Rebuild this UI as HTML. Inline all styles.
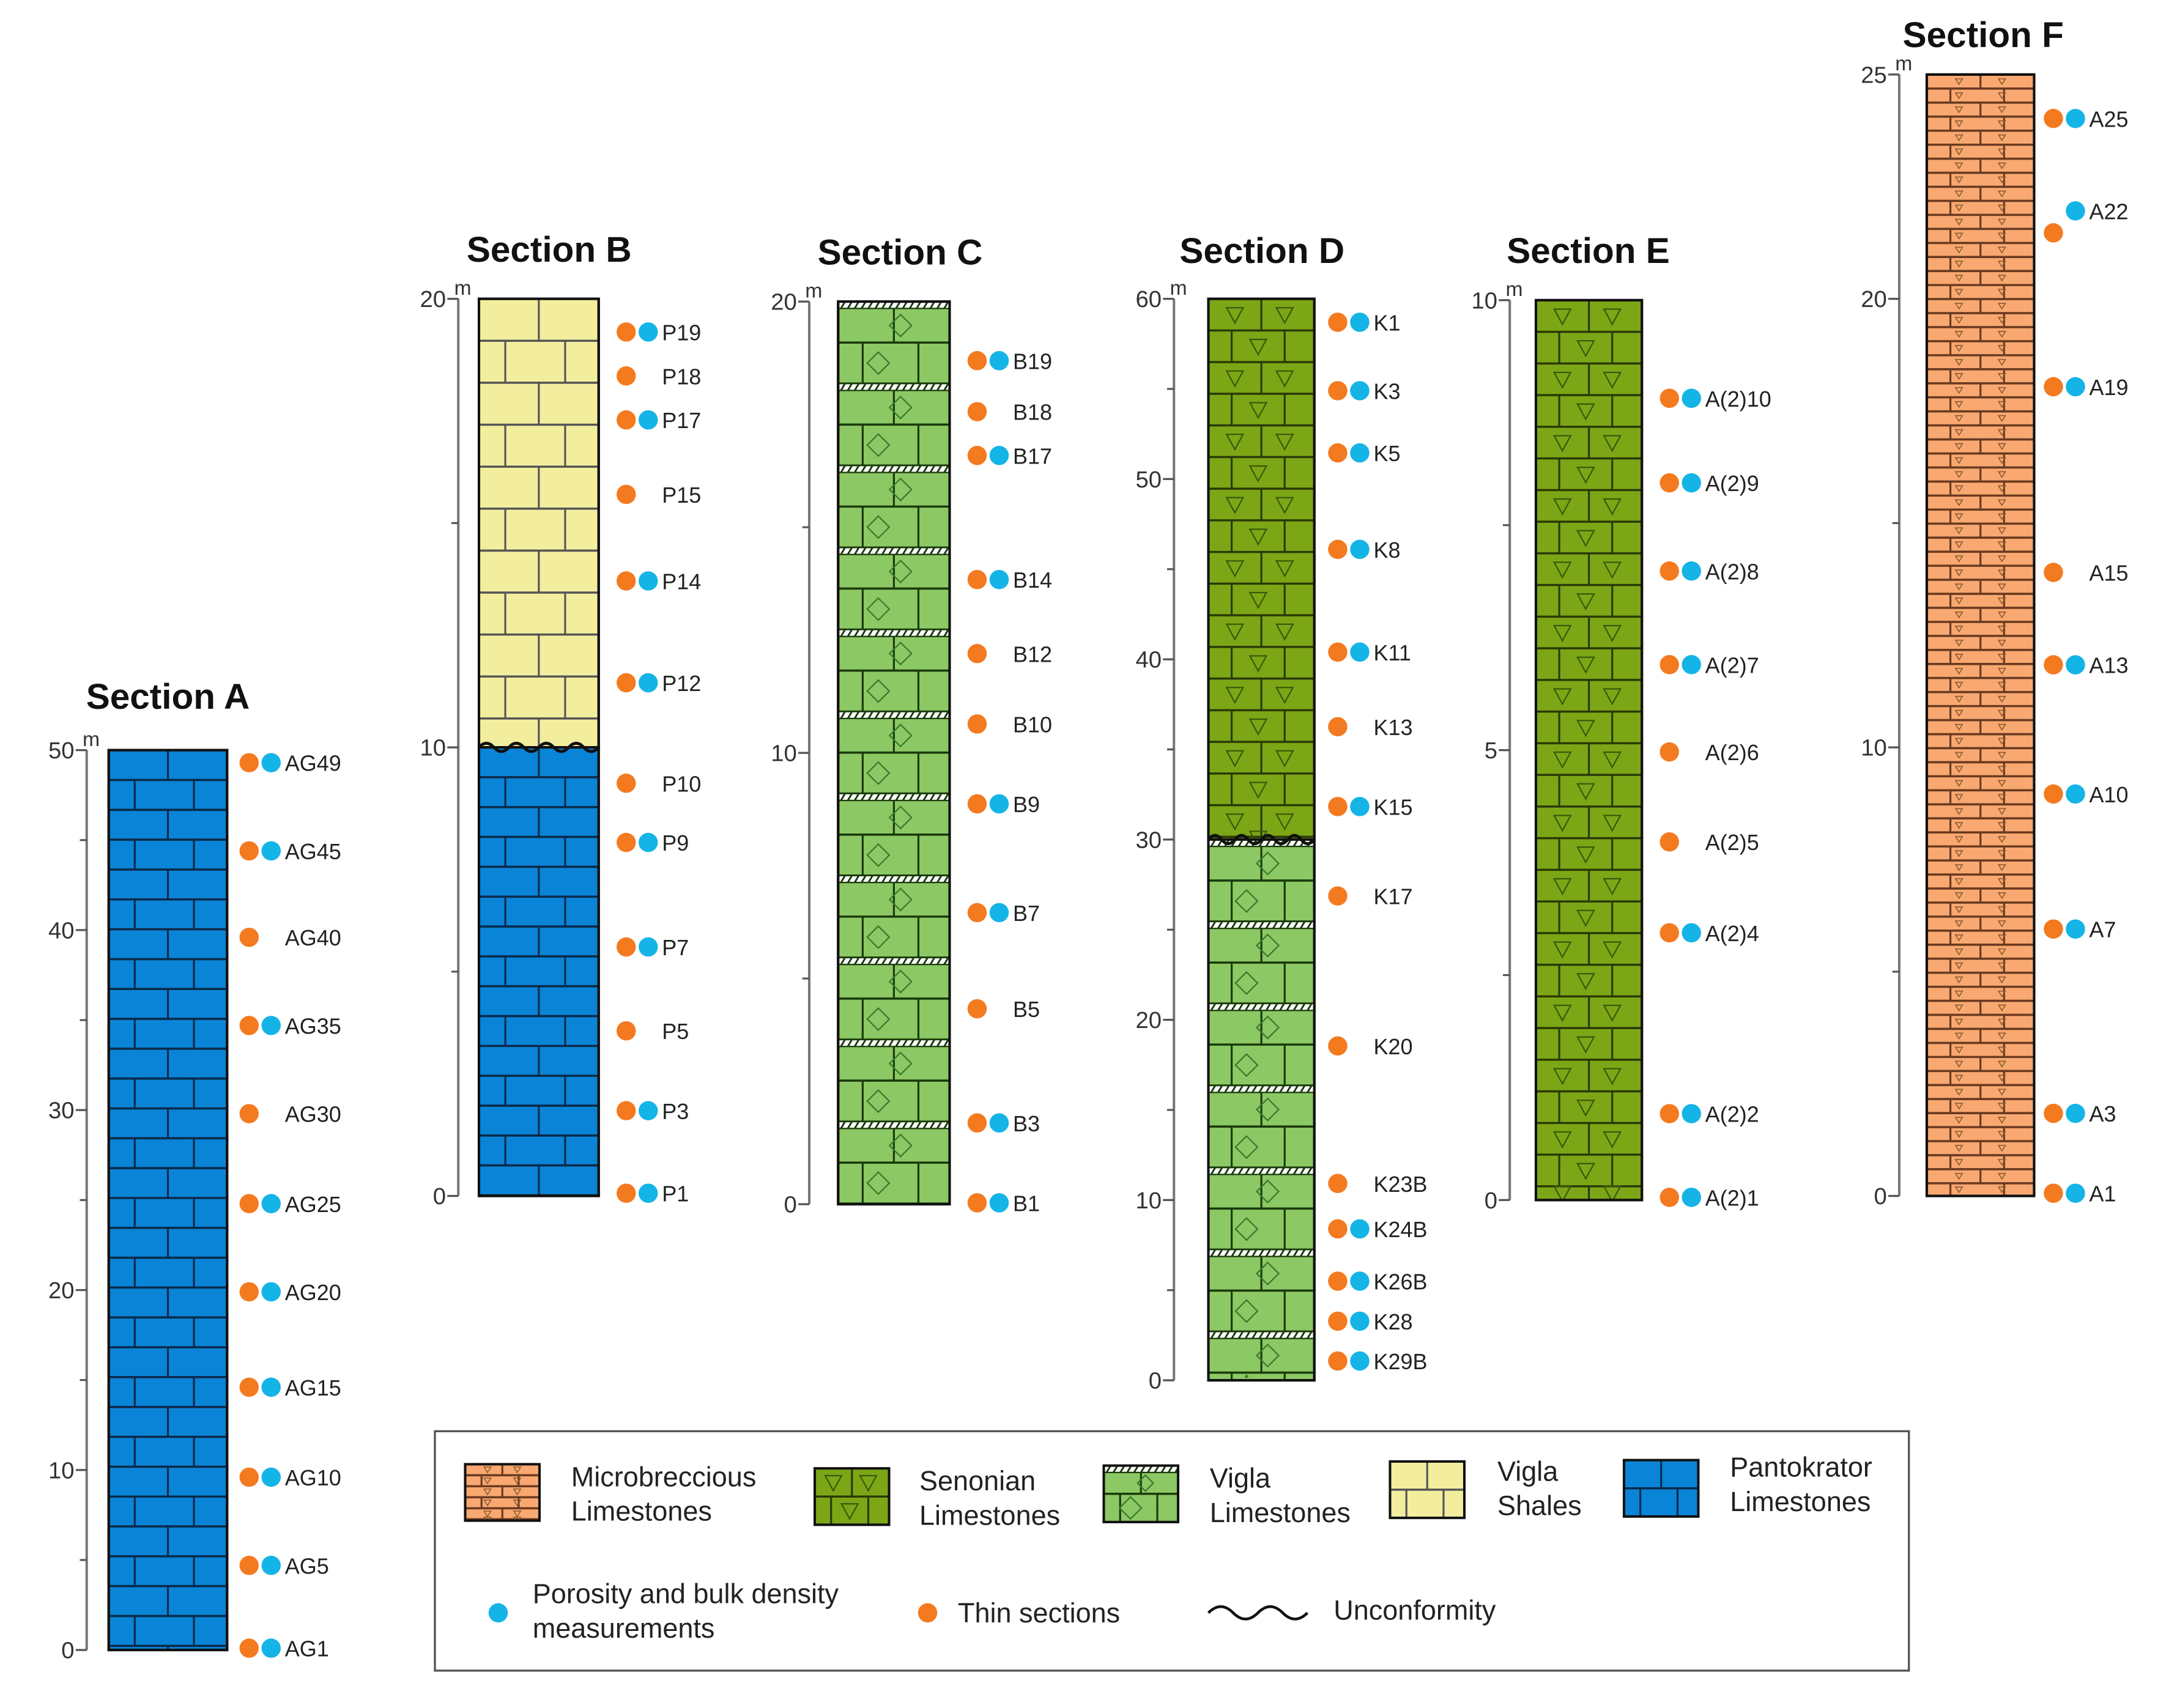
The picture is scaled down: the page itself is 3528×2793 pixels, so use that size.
<!DOCTYPE html>
<html><head><meta charset="utf-8"><style>
html,body{margin:0;padding:0;background:#fff}
svg{display:block}
text{font-family:"Liberation Sans",sans-serif}
</style></head><body>
<svg id="c" width="3528" height="2793" viewBox="0 0 1568 1241" xmlns="http://www.w3.org/2000/svg">
<defs id="defs"></defs>
<rect width="1568" height="1241" fill="#fff"/>
<g id="cols"></g>
<g id="legend">
<rect x="316" y="1040" width="1071" height="174" fill="#fff" stroke="#555" stroke-width="1.5"/>
<text x="415" y="1080" font-size="20" fill="#222">Microbreccious</text><text x="415" y="1105" font-size="20" fill="#222">Limestones</text>
<text x="668" y="1083" font-size="20" fill="#222">Senonian</text><text x="668" y="1108" font-size="20" fill="#222">Limestones</text>
<text x="879" y="1081" font-size="20" fill="#222">Vigla</text><text x="879" y="1106" font-size="20" fill="#222">Limestones</text>
<text x="1088" y="1076" font-size="20" fill="#222">Vigla</text><text x="1088" y="1101" font-size="20" fill="#222">Shales</text>
<text x="1257" y="1073" font-size="20" fill="#222">Pantokrator</text><text x="1257" y="1098" font-size="20" fill="#222">Limestones</text>
<circle cx="362" cy="1172" r="7" fill="#14b4e6"/>
<text x="387" y="1165" font-size="20" fill="#222">Porosity and bulk density</text><text x="387" y="1190" font-size="20" fill="#222">measurements</text>
<circle cx="674" cy="1172" r="7" fill="#f47a20"/>
<text x="696" y="1179" font-size="20" fill="#222">Thin sections</text>
<path d="M878,1172 q9,-9 18,0 t18,0 t18,0 t18,0" fill="none" stroke="#111" stroke-width="2"/>
<text x="969" y="1177" font-size="20" fill="#222">Unconformity</text>
</g>
</svg>
<script>
// ---- data ----
const secA_names=["AG49","AG45","AG40","AG35","AG30","AG25","AG20","AG15","AG10","AG5","AG1"];
const secA_depth=[49.3,44.4,39.6,34.7,29.8,24.8,19.9,14.6,9.6,4.7,0.1];
const secA_poro=[1,1,0,1,0,1,1,1,1,1,1];
const secB_names=["P19","P18","P17","P15","P14","P12","P10","P9","P7","P5","P3","P1"];
const secB_depth=[19.26,18.28,17.3,15.64,13.71,11.44,9.2,7.88,5.55,3.68,1.9,0.06];
const secB_poro=[1,0,1,0,1,1,0,1,1,0,1,1];
const secC_names=["B19","B18","B17","B14","B12","B10","B9","B7","B5","B3","B1"];
const secC_depth=[18.69,17.56,16.59,13.84,12.2,10.64,8.87,6.46,4.33,1.8,0.03];
const secC_poro=[1,0,1,1,0,0,1,1,0,1,1];
const secD_names=["K1","K3","K5","K8","K11","K13","K15","K17","K20","K23B","K24B","K26B","K28","K29B"];
const secD_depth=[58.7,54.9,51.45,46.1,40.4,36.26,31.83,26.87,18.55,10.92,8.4,5.5,3.28,1.07];
const secD_poro=[1,1,1,1,1,0,1,0,0,0,1,1,1,1];
const secE_names=["A(2)10","A(2)9","A(2)8","A(2)7","A(2)6","A(2)5","A(2)4","A(2)2","A(2)1"];
const secE_depth=[8.91,7.97,6.99,5.95,4.98,3.98,2.97,0.96,0.03];
const secE_poro=[1,1,1,1,0,0,1,1,1];
const secF_names=["A25","A22","A19","A15","A13","A10","A7","A3","A1"];
const secF_depth=[24.02,21.96,18.04,13.9,11.84,8.96,5.95,1.84,0.06];
const secF_thinDepth=[24.02,21.47,18.04,13.9,11.84,8.96,5.95,1.84,0.06];
const secF_poro=[1,1,1,0,1,1,1,1,1];
const tickA=[0,10,20,30,40,50], tickB=[0,10,20], tickC=[0,10,20], tickD=[0,10,20,30,40,50,60], tickE=[0,5,10], tickF=[0,10,20,25];

const NS="http://www.w3.org/2000/svg";
const root=document.getElementById('cols');
const defs=document.getElementById('defs');
let clipN=0;
function mk(tag,attrs,parent){const e=document.createElementNS(NS,tag);for(const k in attrs)e.setAttribute(k,attrs[k]);(parent||root).appendChild(e);return e;}

const LITH={
 pant:{fill:"#0a84d6",line:"#0b2a4a",rh:21.7,mark:null},
 shale:{fill:"#f3ee9e",line:"#555",rh:30.5,mark:null},
 vigla:{fill:"#8cc864",line:"#1a3a0a",rh:29.8,mark:"diamond",hatch:true},
 seno:{fill:"#7da617",line:"#2a3a06",rh:23,mark:"tri"},
 micro:{fill:"#f8a870",line:"#6a3a20",rh:10.2,mark:"smalltri"}
};
function bricks(parent,x,w,top,bot,L){
  const id='clp'+(clipN++);
  const cp=mk('clipPath',{id:id},defs);
  mk('rect',{x:x,y:top,width:w,height:bot-top},cp);
  const g=mk('g',{'clip-path':`url(#${id})`},parent);
  mk('rect',{x:x,y:top,width:w,height:bot-top,fill:L.fill},g);
  let i=0;
  for(let y=top;y<bot-0.5;y+=L.rh,i++){
    const yb=Math.min(y+L.rh,bot);
    let yy=y;
    if(L.hatch && i%2==0){
      mk('rect',{x:x,y:y,width:w,height:5,fill:"#fff",stroke:L.line,"stroke-width":1},g);
      for(let hx=x+2;hx<x+w;hx+=5) mk('line',{x1:hx,y1:y+5,x2:hx+3,y2:y,stroke:L.line,"stroke-width":1.3},g);
      yy=y+5;
    }
    mk('line',{x1:x,y1:yb,x2:x+w,y2:yb,stroke:L.line,"stroke-width":1.6},g);
    const joints=i%2==0?[0.5]:[0.22,0.72];
    joints.forEach(f=>mk('line',{x1:x+f*w,y1:yy,x2:x+f*w,y2:yb,stroke:L.line,"stroke-width":1.4},g));
    const cy=(yy+yb)/2;
    if(L.mark=="diamond"){const cx=x+(i%2==0?0.56:0.36)*w;const r=Math.min(8,(yb-yy)/2-2);mk('path',{d:`M${cx},${cy-r}l${r},${r}l${-r},${r}l${-r},${-r}z`,fill:"none",stroke:"#3a7a2a","stroke-width":1},g);}
    if(L.mark=="tri"){(i%2==0?[0.25,0.72]:[0.47]).forEach(f=>{const cx=x+f*w;mk('path',{d:`M${cx-6},${cy-5}h12l-6,11z`,fill:"none",stroke:"#3a5a08","stroke-width":1},g);});}
    if(L.mark=="smalltri"){[0.3,0.7].forEach(f=>{const cx=x+f*w;mk('path',{d:`M${cx-2.5},${cy-2}h5l-2.5,4z`,fill:"none",stroke:"#8a5a30","stroke-width":0.7},g);});}
  }
  mk('rect',{x:x,y:top,width:w,height:bot-top,fill:"none",stroke:"#111","stroke-width":1.8},parent);
}
function wave(g,x,w,y){let d=`M${x},${y}`;for(let t=0;t<w;t+=w/4)d+=` q${w/16},-6 ${w/8},0 t${w/8},0`;mk('path',{d:d,fill:"none",stroke:"#111","stroke-width":2.2},g);}

function section(cfg){
  const g=mk('g',{});
  
  
  const Y=v=>cfg.y0-(v/cfg.max)*(cfg.y0-cfg.yTop);
  const t=mk('text',{x:cfg.tx,y:cfg.ty,"font-size":26,"font-weight":"bold","text-anchor":"middle",fill:"#111"},g);
  t.textContent="Section "+cfg.id.toUpperCase();
  
  
  const ax=mk('g',{},g);
  
  
  mk('line',{x1:cfg.ax,y1:Y(cfg.max),x2:cfg.ax,y2:Y(0),stroke:"#777","stroke-width":1.8},ax);
  for(let v=0;v<=cfg.max+1e-6;v+=cfg.minor){mk('line',{x1:cfg.ax-5,y1:Y(v),x2:cfg.ax,y2:Y(v),stroke:"#555","stroke-width":1.4},ax);}
  cfg.ticks.forEach(v=>{
    mk('line',{x1:cfg.ax-8,y1:Y(v),x2:cfg.ax,y2:Y(v),stroke:"#555","stroke-width":1.4},ax);
    const tl=mk('text',{x:cfg.ax-9,y:Y(v)+6,"font-size":17,"text-anchor":"end",fill:"#333"},ax);tl.textContent=v;
    
    
  });
  const m=mk('text',{x:cfg.ax-3,y:Y(cfg.max)-3,"font-size":15,fill:"#333"},ax);m.textContent="m";
  const col=mk('g',{},g);
  
  
  cfg.layers.forEach(l=>bricks(col,cfg.cx,cfg.cw,Y(l.to),Y(l.from),LITH[l.lith]));
  mk('rect',{x:cfg.cx,y:Y(cfg.max),width:cfg.cw,height:Y(0)-Y(cfg.max),fill:"none",stroke:"#111","stroke-width":1.8},col);
  if(cfg.unconf!==undefined) wave(col,cfg.cx,cfg.cw,Y(cfg.unconf));
  cfg.names.forEach((n,i)=>{
    const sg=mk('g',{},g);
    
    
    const y=Y(cfg.depth[i]);
    const yo=cfg.thin?Y(cfg.thin[i]):y;
    const o=mk('circle',{cx:cfg.ox,cy:yo,r:7,fill:"#f47a20"},sg);
    
    
    if(cfg.poro[i]){const b=mk('circle',{cx:cfg.ox+16,cy:y,r:7,fill:"#14b4e6"},sg);
      
      }
    const tx=mk('text',{x:cfg.ox+26,y:y+6,"font-size":16,fill:"#222"},sg);tx.textContent=n;
  });
}
section({id:"a",tx:122,ty:515,ax:63,yTop:545,y0:1199,max:50,minor:5,ticks:tickA,cx:79,cw:86,layers:[{from:0,to:50,lith:"pant"}],names:secA_names,depth:secA_depth,poro:secA_poro,ox:181});
section({id:"b",tx:399,ty:190,ax:333,yTop:217,y0:869,max:20,minor:5,ticks:tickB,cx:348,cw:87,layers:[{from:10,to:20,lith:"shale"},{from:0,to:10,lith:"pant"}],unconf:10,names:secB_names,depth:secB_depth,poro:secB_poro,ox:455});
section({id:"c",tx:654,ty:192,ax:588,yTop:219,y0:875,max:20,minor:5,ticks:tickC,cx:609,cw:81,layers:[{from:0,to:20,lith:"vigla"}],names:secC_names,depth:secC_depth,poro:secC_poro,ox:710});
section({id:"d",tx:917,ty:191,ax:853,yTop:217,y0:1003,max:60,minor:5,ticks:tickD,cx:878,cw:77,layers:[{from:30,to:60,lith:"seno"},{from:0,to:30,lith:"vigla"}],unconf:30,names:secD_names,depth:secD_depth,poro:secD_poro,ox:972});
section({id:"e",tx:1154,ty:191,ax:1097,yTop:218,y0:872,max:10,minor:2.5,ticks:tickE,cx:1116,cw:77,layers:[{from:0,to:10,lith:"seno"}],names:secE_names,depth:secE_depth,poro:secE_poro,ox:1213});
section({id:"f",tx:1441,ty:34,ax:1380,yTop:54,y0:869,max:25,minor:5,ticks:tickF,cx:1400,cw:78,layers:[{from:0,to:25,lith:"micro"}],names:secF_names,depth:secF_depth,thin:secF_thinDepth,poro:secF_poro,ox:1492});
const lg=document.getElementById('legend');
[[338,1064,"micro"],[592,1067,"seno"],[802,1065,"vigla"],[1010,1062,"shale"],[1180,1061,"pant"]].forEach(s=>{
  const g=mk('g',{},lg);
  
  
  const L=Object.assign({},LITH[s[2]]);L.rh=s[2]=="micro"?8:20.5;
  bricks(g,s[0],54,s[1],s[1]+41,L);
});
</script>
</body></html>
